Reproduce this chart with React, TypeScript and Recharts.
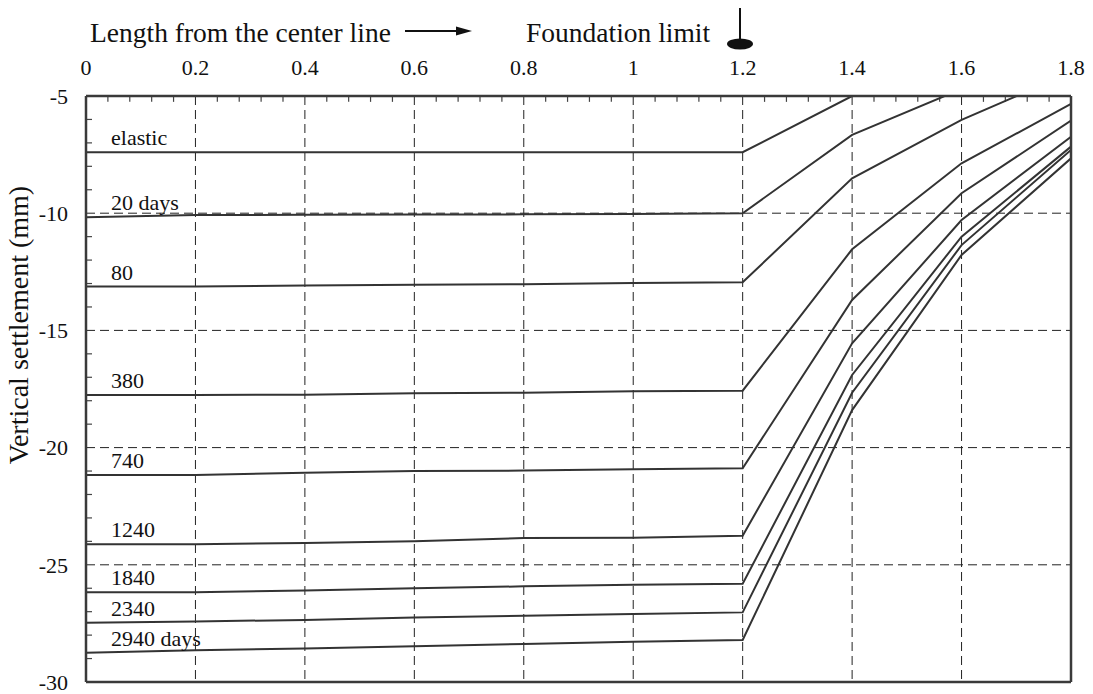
import React from "react";
import {
  LineChart,
  Line,
  XAxis,
  YAxis,
  CartesianGrid,
  LabelList,
  ReferenceLine,
} from "recharts";

// distance from the center line (m)
const xValues = [0, 0.2, 0.4, 0.6, 0.8, 1, 1.2, 1.4, 1.6, 1.8];
const yTicks = [-5, -10, -15, -20, -25, -30];

const seriesLabels = [
  "elastic",
  "20 days",
  "80",
  "380",
  "740",
  "1240",
  "1840",
  "2340",
  "2940 days",
];

// vertical settlement (mm), one value per xValues entry
const elastic = [-7.4, -7.4, -7.4, -7.4, -7.4, -7.4, -7.4, -5.0, null, null];
const days20 = [-10.17, -10.08, -10.07, -10.06, -10.05, -10.03, -10.0, -6.66, -4.7, null];
const days80 = [-13.13, -13.13, -13.08, -13.05, -13.03, -12.98, -12.95, -8.51, -6.02, -4.0];
const days380 = [-17.76, -17.76, -17.74, -17.68, -17.66, -17.6, -17.57, -11.54, -7.87, -5.34];
const days740 = [-21.17, -21.17, -21.07, -21.0, -20.98, -20.92, -20.88, -13.7, -9.15, -6.05];
const days1240 = [-24.12, -24.12, -24.07, -24.0, -23.86, -23.85, -23.76, -15.55, -10.29, -6.74];
const days1840 = [-26.17, -26.17, -26.1, -26.0, -25.92, -25.85, -25.81, -16.9, -11.0, -7.16];
const days2340 = [-27.47, -27.42, -27.35, -27.25, -27.17, -27.1, -27.03, -17.66, -11.36, -7.3];
const days2940 = [-28.75, -28.65, -28.57, -28.48, -28.38, -28.28, -28.21, -18.4, -11.78, -7.66];

const series = [elastic, days20, days80, days380, days740, days1240, days1840, days2340, days2940];

const data = xValues.map((x, i) => {
  const row: Record<string, number | null> = { x };
  series.forEach((s, k) => {
    row[`s${k}`] = s[i];
  });
  return row;
});

// minor tick marks inside the frame (every 0.04 m along the top, every 1 mm on the left)
const minorX = Array.from({ length: 44 }, (_, i) => +((i + 1) * 0.04).toFixed(2)).filter(
  (v) => !xValues.some((t) => Math.abs(t - v) < 1e-6)
);
const minorY = Array.from({ length: 24 }, (_, i) => -6 - i).filter((v) => v % 5 !== 0);
const TICK_DY = 0.25; // mm
const TICK_DX = 0.011; // m

const FONT = "'Liberation Serif', 'Times New Roman', serif";
const INK = "#111";
const LINE = "#333";
const FRAME = "#3a3a3a";

const tickStyle = { fontFamily: FONT, fontSize: 22, fill: INK };

export default function App() {
  return (
    <div style={{ position: "absolute", left: 0, top: 0, width: 1093, height: 694, background: "#fff" }}>
      <svg
        width={1093}
        height={694}
        style={{ position: "absolute", left: 0, top: 0, pointerEvents: "none" }}
      >
        <text x={90} y={42} fontFamily={FONT} fontSize={27.5} fill={INK}>
          Length from the center line
        </text>
        <line x1={405} y1={31} x2={460} y2={31} stroke={INK} strokeWidth={2} />
        <polygon points="472,31 456,26.5 456,35.5" fill={INK} />
        <text x={526} y={42} fontFamily={FONT} fontSize={27.5} fill={INK}>
          Foundation limit
        </text>
        <line x1={740} y1={8} x2={740} y2={40} stroke={INK} strokeWidth={2} />
        <ellipse cx={740} cy={44} rx={13} ry={5.5} fill={INK} />
        <text
          x={28}
          y={325}
          transform="rotate(-90, 28, 325)"
          textAnchor="middle"
          fontFamily={FONT}
          fontSize={28}
          fill={INK}
        >
          Vertical settlement (mm)
        </text>
      </svg>
      <div style={{ position: "absolute", left: 0, top: 0 }}>
        <LineChart
          width={1093}
          height={694}
          data={data}
          margin={{ top: 0, right: 22, bottom: 12, left: 0 }}
        >
          <CartesianGrid stroke="#222" strokeDasharray="9 5" strokeWidth={1} />
          <XAxis
            dataKey="x"
            type="number"
            orientation="top"
            domain={[0, 1.8]}
            ticks={xValues}
            allowDataOverflow
            height={96}
            tickSize={0}
            tickMargin={21}
            tickLine={false}
            axisLine={{ stroke: FRAME, strokeWidth: 2.5 }}
            tick={tickStyle}
            interval={0}
          />
          <XAxis
            xAxisId="bottom"
            dataKey="x"
            type="number"
            orientation="bottom"
            mirror
            domain={[0, 1.8]}
            allowDataOverflow
            tick={false}
            tickLine={false}
            axisLine={{ stroke: FRAME, strokeWidth: 2.5 }}
          />
          <YAxis
            type="number"
            domain={[-30, -5]}
            ticks={yTicks}
            allowDataOverflow
            width={86}
            tickSize={0}
            tickMargin={18}
            tickLine={false}
            axisLine={{ stroke: FRAME, strokeWidth: 2.5 }}
            tick={tickStyle}
            interval={0}
          />
          <YAxis
            yAxisId="right"
            type="number"
            orientation="right"
            mirror
            domain={[-30, -5]}
            allowDataOverflow
            tick={false}
            tickLine={false}
            axisLine={{ stroke: FRAME, strokeWidth: 2.5 }}
          />
          {minorX.map((v) => (
            <ReferenceLine
              key={`mx${v}`}
              segment={[
                { x: v, y: -5 },
                { x: v, y: -5 - TICK_DY },
              ]}
              stroke="#444"
              strokeWidth={1.2}
            />
          ))}
          {minorY.map((v) => (
            <ReferenceLine
              key={`my${v}`}
              segment={[
                { x: 0, y: v },
                { x: TICK_DX, y: v },
              ]}
              stroke="#444"
              strokeWidth={1.2}
            />
          ))}
          {series.map((_, k) => (
            <Line
              key={k}
              dataKey={`s${k}`}
              type="linear"
              stroke={LINE}
              strokeWidth={2}
              dot={false}
              activeDot={false}
              isAnimationActive={false}
            >
              <LabelList
                dataKey={`s${k}`}
                content={(p: any) =>
                  p.index === 0 ? (
                    <text
                      x={Number(p.x) + 25}
                      y={Number(p.y) - 7}
                      fontFamily={FONT}
                      fontSize={22}
                      fill={INK}
                    >
                      {seriesLabels[k]}
                    </text>
                  ) : null
                }
              />
            </Line>
          ))}
        </LineChart>
      </div>
    </div>
  );
}
